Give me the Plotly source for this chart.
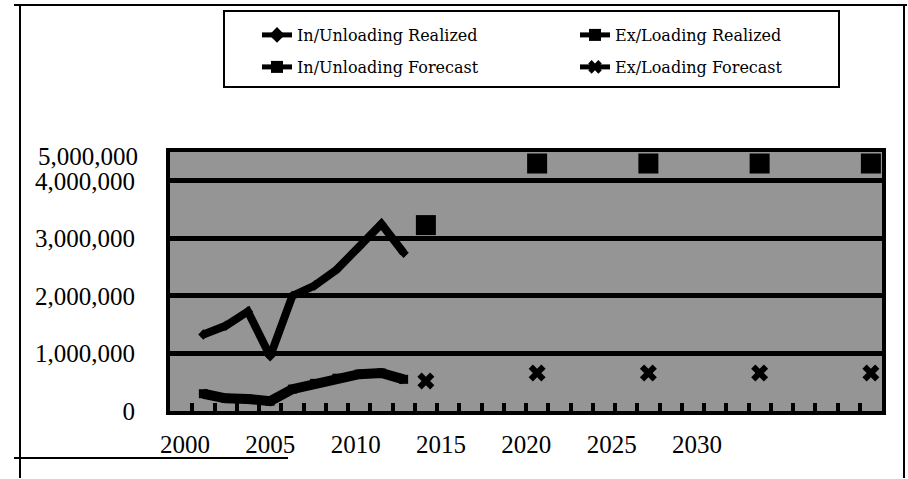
import plotly.graph_objects as go

# ---- data -------------------------------------------------------------
realized_years = [2001, 2002, 2003, 2004, 2005, 2006, 2007, 2008, 2009, 2010]
in_unloading_realized = [1330000, 1480000, 1730000, 950000, 2000000,
                         2180000, 2460000, 2850000, 3250000, 2750000]
ex_loading_realized = [300000, 220000, 210000, 170000, 380000,
                       480000, 570000, 640000, 660000, 550000]

forecast_years = [2011, 2016, 2021, 2026, 2031]
in_unloading_forecast = [3230000, 4300000, 4300000, 4300000, 4300000]
ex_loading_forecast = [520000, 660000, 660000, 660000, 660000]

label_years = [2000, 2005, 2010, 2015, 2020, 2025, 2030]
y_ticks = [0, 1000000, 2000000, 3000000, 4000000]
top_label = "5,000,000"

# ---- layout geometry (pixels) ----------------------------------------
W, H = 908, 479
PL, PR, PT, PB = 170, 882, 152, 411     # plot area edges


def px_x(px):
    return (px - PL) / (PR - PL)


def px_y(py):
    return (PB - py) / (PB - PT)


TICK_FONT = dict(family="Liberation Serif", size=25, color="black")
LEG_FONT = dict(family="DejaVu Serif", size=16, color="black")
GRAY = "#959595"


# forecast series only have values every five years; the other slots stay empty
def spread(years, values):
    lookup = dict(zip(years, values))
    xs = list(range(years[0], years[-1] + 1))
    return xs, [lookup.get(x) for x in xs]


fx, in_fc = spread(forecast_years, in_unloading_forecast)
_, ex_fc = spread(forecast_years, ex_loading_forecast)

fig = go.Figure()

fig.add_trace(go.Scatter(
    x=realized_years, y=in_unloading_realized, name="In/Unloading Realized",
    mode="lines+markers", line=dict(color="black", width=8),
    marker=dict(symbol="diamond", size=8, color="black"), legend="legend"))
fig.add_trace(go.Scatter(
    x=realized_years, y=ex_loading_realized, name="Ex/Loading Realized",
    mode="lines+markers", line=dict(color="black", width=10),
    marker=dict(symbol="square", size=9, color="black"), legend="legend2"))
fig.add_trace(go.Scatter(
    x=fx, y=in_fc, name="In/Unloading Forecast", connectgaps=False,
    mode="lines+markers", line=dict(color="black", width=8),
    marker=dict(symbol="square", size=20, color="black"), legend="legend3"))
fig.add_trace(go.Scatter(
    x=fx, y=ex_fc, name="Ex/Loading Forecast", connectgaps=False,
    mode="lines+markers", line=dict(color="black", width=2),
    marker=dict(symbol="x", size=15, color="black"), legend="legend4"))

# carrier for the year labels on the overlaying axis
fig.add_trace(go.Scatter(
    x=label_years, y=[0] * len(label_years), xaxis="x2", mode="markers",
    marker=dict(opacity=0), showlegend=False, hoverinfo="skip"))

# label axis: 2000 sits at 185 px, 2030 at 697 px
lab_px_per_year = (697 - 185) / 30
lab_lo = 2000 - (185 - PL) / lab_px_per_year
lab_hi = 2000 + (PR - 185) / lab_px_per_year


def legend_at(px, py):
    return dict(x=px_x(px), y=px_y(py), xanchor="left", yanchor="middle",
                orientation="h", bgcolor="rgba(0,0,0,0)", borderwidth=0,
                itemwidth=30, itemsizing="constant", itemclick=False,
                font=LEG_FONT)


fig.update_layout(
    width=W, height=H,
    margin=dict(l=PL, r=W - PR, t=PT, b=H - PB, pad=0, autoexpand=False),
    paper_bgcolor="white", plot_bgcolor=GRAY,
    legend=legend_at(257, 35),
    legend2=legend_at(575, 35),
    legend3=legend_at(257, 67),
    legend4=legend_at(575, 67),
    xaxis=dict(range=[1999.5, 2031.5], tickmode="linear", tick0=1999.5, dtick=1,
               ticks="inside", ticklen=8, tickwidth=4, tickcolor="black",
               showticklabels=False, showgrid=False, zeroline=False,
               showline=True, linewidth=4, linecolor="black", mirror=True),
    xaxis2=dict(overlaying="x", anchor="y", side="bottom",
                range=[lab_lo, lab_hi], tickmode="array", tickvals=label_years,
                ticktext=[str(v) for v in label_years],
                ticks="outside", ticklen=11, tickcolor="rgba(0,0,0,0)",
                showgrid=False, zeroline=False, showline=False,
                tickfont=TICK_FONT),
    yaxis=dict(range=[0, 4500000], tickmode="array", tickvals=y_ticks,
               tickformat=",d", ticks="outside", ticklen=26,
               tickcolor="rgba(0,0,0,0)",
               showgrid=True, gridcolor="black", gridwidth=5, zeroline=False,
               showline=True, linewidth=4, linecolor="black", mirror=True,
               tickfont=TICK_FONT),
    showlegend=True,
)

# top value label of the vertical scale
fig.add_annotation(xref="paper", yref="paper", x=px_x(140), y=px_y(156),
                   xanchor="right", yanchor="middle", showarrow=False,
                   text=top_label, font=TICK_FONT)

# legend box
fig.add_shape(type="rect", xref="paper", yref="paper",
              x0=px_x(224), x1=px_x(839), y0=px_y(87), y1=px_y(11),
              line=dict(color="black", width=2), fillcolor="rgba(0,0,0,0)")

# outer chart frame
frame = dict(color="black", width=2)
fig.add_shape(type="line", xref="paper", yref="paper",
              x0=px_x(14), x1=px_x(907), y0=px_y(5), y1=px_y(5), line=frame)
fig.add_shape(type="line", xref="paper", yref="paper",
              x0=px_x(20), x1=px_x(20), y0=px_y(5), y1=px_y(478), line=frame)
fig.add_shape(type="line", xref="paper", yref="paper",
              x0=px_x(904), x1=px_x(904), y0=px_y(5), y1=px_y(478), line=frame)
fig.add_shape(type="line", xref="paper", yref="paper",
              x0=px_x(14), x1=px_x(288), y0=px_y(458), y1=px_y(458), line=frame)

fig.write_html("out.html")
